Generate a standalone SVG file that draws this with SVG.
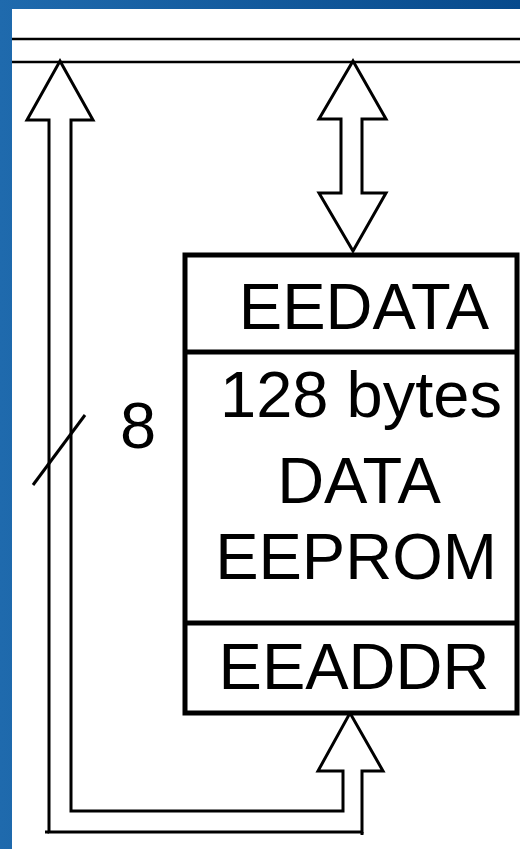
<svg xmlns="http://www.w3.org/2000/svg" width="520" height="849" viewBox="0 0 520 849">
  <defs>
    <linearGradient id="bg" x1="0" y1="0" x2="1" y2="0">
      <stop offset="0" stop-color="#1f6aad"/>
      <stop offset="1" stop-color="#074a8c"/>
    </linearGradient>
    <style>
      .lbl{font-family:"Liberation Sans",Arial,sans-serif;font-size:65px;fill:#000;text-anchor:middle}
      .bus{stroke:#000;stroke-width:2.5;fill:none}
      .arrow{stroke:#000;stroke-width:3;fill:#fff;stroke-linejoin:miter}
      .box{stroke:#000;stroke-width:5;fill:#fff}
    </style>
  </defs>
  <rect x="0" y="0" width="520" height="849" fill="url(#bg)"/>
  <rect x="12" y="9" width="508" height="840" fill="#fff"/>

  <g id="bus">
    <line class="bus" x1="12" y1="39" x2="520" y2="39"/>
    <line class="bus" x1="12" y1="62" x2="520" y2="62"/>
  </g>

  <g id="connectors">
    <polygon class="arrow" points="353,61 386,119 362,119 362,193 386,193 353,251 319,193 341,193 341,119 319,119"/>
    <polygon class="arrow" points="60,61 93,120 71,120 71,811 343,811 343,771 318,771 350,713 383,771 362,771 362,832 49,832 49,120 27,120"/>
    <line class="arrow" x1="45" y1="832" x2="49" y2="832"/>
    <line class="arrow" x1="362" y1="832" x2="362" y2="835"/>
    <line class="arrow" x1="33" y1="485" x2="85" y2="415"/>
  </g>

  <g id="width-label">
    <text class="lbl" x="138" y="448">8</text>
  </g>

  <g id="eeprom">
    <rect class="box" x="185" y="255" width="332" height="458"/>
    <line class="box" x1="185" y1="352" x2="517" y2="352"/>
    <line class="box" x1="185" y1="623" x2="517" y2="623"/>
    <text class="lbl" x="364" y="329">EEDATA</text>
    <text class="lbl" x="361" y="417">128 bytes</text>
    <text class="lbl" x="359" y="503">DATA</text>
    <text class="lbl" x="356" y="579">EEPROM</text>
    <text class="lbl" x="354" y="689">EEADDR</text>
  </g>
</svg>
